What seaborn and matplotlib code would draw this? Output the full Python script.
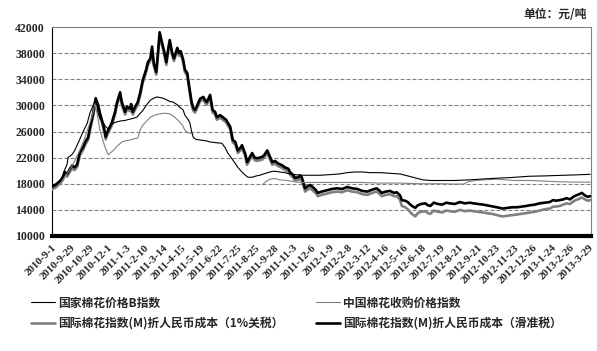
import numpy as np
import pandas as pd
import matplotlib
matplotlib.use("Agg")
import matplotlib.pyplot as plt
import seaborn as sns

# ---------------- data (trading-day index -> yuan/ton) ----------------
tick_labels = ["2010-9-1", "2010-9-29", "2010-10-29", "2010-12-1", "2011-1-3", "2011-2-10",
               "2011-3-14", "2011-4-15", "2011-5-19", "2011-6-22", "2011-7-25", "2011-8-25",
               "2011-9-28", "2011-11-3", "2011-12-6", "2012-1-9", "2012-2-8", "2012-3-12",
               "2012-4-16", "2012-5-16", "2012-6-18", "2012-7-19", "2012-8-21", "2012-9-21",
               "2012-10-23", "2012-11-23", "2012-12-26", "2013-1-24", "2013-2-26", "2013-3-29"]
tick_days = [0, 22, 44, 66, 88, 110, 132, 154, 176, 198, 220, 242, 264, 286, 308,
             330, 352, 374, 396, 418, 440, 462, 484, 506, 528, 550, 572, 594, 616, 638]

# International cotton index (M) in RMB, sliding-scale duty (thick black) and 1% duty (thick gray)
intl_days = [0, 5, 10, 13, 15, 18, 21, 24, 27, 30, 31, 33, 37, 40, 43, 45, 49, 52, 55, 57,
             61, 64, 65, 68, 71, 75, 77, 81, 83, 87, 89, 93, 94, 96, 99, 102, 105, 108, 112, 114,
             117, 119, 121, 124, 126, 128, 131, 133, 136, 138, 140, 143, 145, 149, 151, 153, 156, 158, 161, 162,
             164, 166, 168, 170, 172, 176, 180, 182, 184, 188, 191, 194, 196, 200, 203, 207, 212, 215, 218, 221,
             224, 226, 230, 232, 235, 238, 241, 244, 247, 250, 253, 256, 258, 262, 265, 269, 274, 277, 281, 283,
             287, 289, 293, 295, 297, 301, 304, 307, 310, 314, 316, 321, 327, 333, 339, 345, 351, 357, 363, 369,
             375, 381, 386, 390, 392, 397, 402, 407, 410, 414, 416, 420, 423, 427, 432, 435, 439, 444, 447, 450,
             454, 459, 464, 469, 473, 479, 485, 491, 497, 501, 507, 513, 517, 523, 529, 536, 542, 547, 553, 559,
             564, 568, 574, 580, 586, 592, 596, 599, 604, 608, 612, 616, 620, 623, 627, 630, 634, 637, 640]
intl_sliding = [17500, 17900, 18500, 19000, 19800, 19500, 20200, 20800, 20500, 21000, 21600, 22800, 23600, 24500, 25100, 26500, 28800, 31100, 30000, 28800,
                27000, 25200, 25700, 26500, 27300, 29000, 30300, 32000, 30500, 29000, 29800, 29500, 30200, 29000, 29800, 30500, 32000, 33900, 35500, 36600,
                37200, 39000, 36500, 35100, 38000, 41200, 39500, 38500, 36600, 38500, 40000, 38000, 37200, 38800, 38000, 38300, 37000, 35500, 34900, 33900,
                32200, 30500, 29600, 29300, 29800, 31000, 31300, 30800, 30500, 31600, 29300, 29000, 28200, 28500, 28200, 27800, 26700, 24700, 24400, 23100,
                23500, 23900, 22500, 21300, 22000, 22700, 22000, 21900, 22000, 22100, 22500, 23100, 22500, 21300, 21500, 21100, 20800, 20500, 20300, 19800,
                19300, 18900, 19000, 19300, 19000, 17300, 17600, 17800, 17500, 17000, 16600, 16800, 17000, 17200, 17300, 17200, 17500, 17300, 17200, 16900,
                16800, 17100, 17300, 16900, 16600, 16800, 16900, 16600, 16700, 16200, 15500, 15400, 15200, 14700, 14300, 14700, 14900, 15000, 14700, 14600,
                15100, 14900, 14800, 15100, 15000, 14900, 15200, 15000, 15100, 15000, 14900, 14800, 14700, 14550, 14400, 14200, 14300, 14400, 14400, 14500,
                14600, 14700, 14800, 15000, 15100, 15200, 15500, 15400, 15500, 15600, 15800, 15600, 16000, 16200, 16400, 16600, 16200, 16000, 16100]
intl_1pct = [17100, 17500, 18100, 18600, 19300, 19100, 19800, 20300, 20100, 20600, 21200, 22300, 23200, 24100, 24700, 26100, 28400, 30700, 29600, 28400,
             26600, 24800, 25300, 26100, 26900, 28600, 29900, 31600, 30100, 28600, 29400, 29100, 29800, 28600, 29400, 30100, 31600, 33500, 35100, 36200,
             36800, 38600, 36100, 34700, 37600, 40800, 39100, 38100, 36200, 38100, 39600, 37600, 36800, 38400, 37600, 37900, 36600, 35100, 34500, 33500,
             31800, 30100, 29200, 28900, 29400, 30600, 30900, 30400, 30100, 31200, 28900, 28600, 27800, 28100, 27800, 27400, 26300, 24300, 24000, 22700,
             23100, 23500, 22100, 20900, 21600, 22300, 21600, 21500, 21600, 21700, 22100, 22700, 22100, 20900, 21100, 20700, 20400, 20100, 19900, 19400,
             18900, 18500, 18600, 18800, 18500, 16800, 17100, 17300, 17000, 16500, 16100, 16300, 16500, 16700, 16800, 16700, 17000, 16800, 16700, 16400,
             16300, 16600, 16800, 16400, 16100, 16300, 16400, 16100, 16100, 15500, 14600, 14400, 14100, 13500, 13000, 13500, 13700, 13800, 13500, 13400,
             13900, 13700, 13600, 13900, 13800, 13700, 14000, 13800, 13900, 13800, 13700, 13600, 13500, 13400, 13200, 13000, 13100, 13200, 13300, 13400,
             13500, 13600, 13700, 13900, 14100, 14200, 14500, 14500, 14600, 14800, 15000, 14900, 15300, 15500, 15700, 15900, 15600, 15400, 15500]

# National cotton price B index (thin black)
b_days = [0, 5, 10, 13, 15, 18, 19, 24, 27, 32, 36, 39, 42, 45, 49, 52, 55, 57, 61, 64,
          67, 70, 75, 81, 87, 93, 96, 101, 105, 108, 112, 117, 121, 125, 128, 132, 137, 140, 144, 149,
          152, 156, 158, 162, 164, 166, 168, 171, 176, 182, 188, 194, 202, 206, 209, 213, 218, 221, 226, 230,
          233, 238, 243, 247, 254, 262, 266, 271, 277, 283, 289, 295, 307, 319, 331, 342, 351, 360, 369, 378,
          390, 402, 414, 423, 432, 441, 450, 461, 479, 497, 515, 529, 545, 557, 568, 586, 608, 622, 640]
b_index = [17800, 18000, 18500, 19300, 20100, 21000, 22000, 22500, 23100, 24500, 25700, 26500, 27300, 28800, 30000, 31100, 28800, 28000, 27300, 26700,
           26400, 27000, 27400, 27600, 27700, 27900, 28000, 28200, 28800, 29200, 30000, 30800, 31100, 31300, 31200, 31100, 30800, 30600, 30500, 30100,
           29700, 29300, 28500, 27800, 27300, 26000, 25100, 24800, 24700, 24600, 24400, 24300, 24200, 23500, 22700, 22000, 21100, 20500, 19800, 19300,
           19000, 19000, 19200, 19300, 19600, 19900, 19900, 19800, 19700, 19500, 19400, 19300, 19300, 19300, 19400, 19500, 19700, 19800, 19800, 19700,
           19700, 19600, 19500, 19200, 18900, 18600, 18500, 18500, 18500, 18600, 18750, 18850, 18950, 19050, 19150, 19200, 19300, 19350, 19450]

# China cotton purchase price index (thin gray); segment 2 starts after a data gap
cc_days = [0, 5, 10, 15, 21, 27, 33, 39, 45, 49, 51, 54, 57, 61, 63, 67, 69, 73, 77, 83,
           88, 93, 98, 102, 105, 108, 112, 117, 122, 128, 134, 140, 146, 150, 155, 158, 162, 165,
           250, 254, 259, 265, 271, 279, 289, 295, 307, 319, 342, 366, 390, 414, 438, 461, 479, 489,
           495, 503, 515, 529, 539, 551, 568, 586, 604, 622, 640]
cc_index = [17200, 17400, 18000, 19000, 20100, 21500, 23100, 25000, 27300, 29000, 30300, 28500, 26200, 24500, 23600, 22400, 22700, 23100, 23700, 24400,
            24600, 24700, 24900, 25000, 26300, 27000, 27500, 28200, 28500, 28700, 28800, 28700, 28200, 27700, 27000, 26200, 25800, 25700,
            17800, 18300, 18700, 18800, 18600, 18500, 18300, 18200, 18200, 18200, 18200, 18200, 18100, 18100, 18000, 18000, 17950, 17950,
            18300, 18500, 18600, 18700, 18600, 18500, 18500, 18400, 18300, 18250, 18250]
cc_segment = [1] * 38 + [2] * 29

names = ["国家棉花价格B指数", "中国棉花收购价格指数",
         "国际棉花指数(M)折人民币成本（1%关税）", "国际棉花指数(M)折人民币成本（滑准税）"]

df_intl = pd.DataFrame({"day": intl_days, "sliding": intl_sliding, "onepct": intl_1pct})
df_b = pd.DataFrame({"day": b_days, "val": b_index})
df_cc = pd.DataFrame({"day": cc_days, "val": cc_index, "seg": cc_segment})

# ---------------- style ----------------
sns.set_style("white")
plt.rcParams["font.family"] = ["Noto Sans CJK SC", "DejaVu Sans"]
plt.rcParams["font.weight"] = "bold"

fig = plt.figure(figsize=(5.97, 3.51), dpi=100)
ax = fig.add_axes([52 / 597, 1 - 236 / 351, (591 - 52) / 597, (236 - 27) / 351])

GRAY = "#808080"
sns.lineplot(data=df_intl, x="day", y="onepct", ax=ax, color=GRAY, lw=1.9, label=names[2], zorder=3)
sns.lineplot(data=df_intl, x="day", y="sliding", ax=ax, color="black", lw=1.9, label=names[3], zorder=4)
sns.lineplot(data=df_cc, x="day", y="val", units="seg", estimator=None, ax=ax, color=GRAY, lw=0.8,
             label=names[1], zorder=5)
sns.lineplot(data=df_b, x="day", y="val", ax=ax, color="black", lw=0.8, label=names[0], zorder=6)

ax.set_xlim(0, 641)
ax.set_ylim(10000, 42000)
yt = list(range(10000, 42001, 4000))
ax.set_yticks(yt)
ax.set_yticklabels([str(v) for v in yt], fontsize=8.5, fontweight="bold", family="Liberation Serif")
for v in yt[1:-1]:
    ax.axhline(v, color=GRAY, lw=0.8, ls=(0, (3.6, 1.8)), zorder=1)

ax.set_xticks(tick_days)
ax.set_xticklabels(tick_labels, rotation=45, ha="right", rotation_mode="anchor",
                   fontsize=7.8, fontweight="bold", family="Liberation Serif")
ax.tick_params(axis="both", length=0, pad=5)
ax.set_xlabel("")
ax.set_ylabel("")

for s in ["top", "right"]:
    ax.spines[s].set_color(GRAY)
    ax.spines[s].set_linewidth(0.8)
ax.spines["left"].set_color("black")
ax.spines["left"].set_linewidth(0.8)
ax.spines["bottom"].set_color("black")
ax.spines["bottom"].set_linewidth(3)

fig.text(587 / 597, 1 - 15 / 351, "单位：元/吨", ha="right", va="center", fontsize=8.5, fontweight="bold")

handles, labels = ax.get_legend_handles_labels()
hmap = dict(zip(labels, handles))
order = [names[0], names[2], names[1], names[3]]
ax.get_legend().remove()
fig.legend([hmap[n] for n in order], order, ncol=2, loc="upper left",
           bbox_to_anchor=(20 / 597, 1 - 286 / 351), frameon=False,
           handlelength=2.1, handletextpad=0.25, columnspacing=2.7, labelspacing=0.6,
           prop={"weight": "bold", "size": 8.5})

fig.savefig("out.png", dpi=100)
